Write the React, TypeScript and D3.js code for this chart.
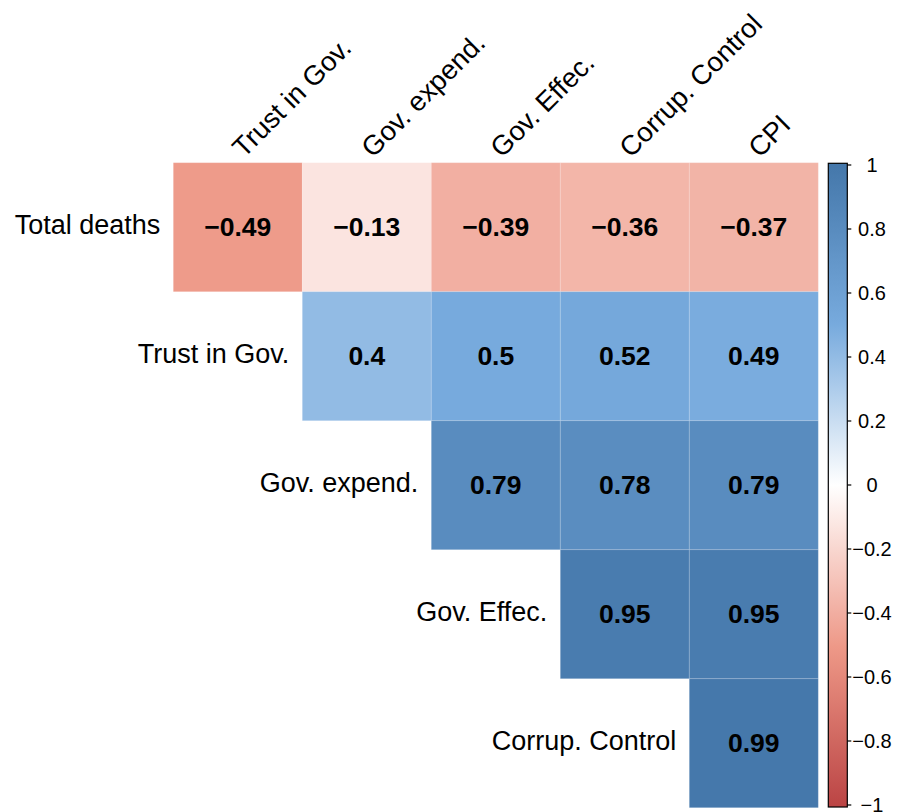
import React from "react";
import * as d3 from "d3";

// Variable names along the rows (left) and columns (top) of the upper triangle
const rowNames = ["Total deaths", "Trust in Gov.", "Gov. expend.", "Gov. Effec.", "Corrup. Control"];
const colNames = ["Trust in Gov.", "Gov. expend.", "Gov. Effec.", "Corrup. Control", "CPI"];

// Correlation coefficients, one array per row, starting at the diagonal
const rowTotalDeaths = [-0.49, -0.13, -0.39, -0.36, -0.37];
const rowTrust = [0.4, 0.5, 0.52, 0.49];
const rowGovExpend = [0.79, 0.78, 0.79];
const rowGovEffec = [0.95, 0.95];
const rowCorrup = [0.99];
const corrRows = [rowTotalDeaths, rowTrust, rowGovExpend, rowGovEffec, rowCorrup];

// Colour legend ticks
const legendTicks = [1, 0.8, 0.6, 0.4, 0.2, 0, -0.2, -0.4, -0.6, -0.8, -1];

// Palette stops
const paletteDomain = [-1, -0.5, 0, 0.5, 1];
const paletteColors = ["#BB4444", "#EE9988", "#FFFFFF", "#77AADD", "#4477AA"];

const FONT = "'Liberation Sans', Arial, Helvetica, sans-serif";

export default function App() {
  const W = 897;
  const H = 812;
  const gridLeft = 173.3;
  const gridTop = 162.7;
  const cell = 129;
  const n = colNames.length;

  const x = d3.scaleBand<number>().domain(d3.range(n)).range([gridLeft, gridLeft + n * cell]);
  const y = d3.scaleBand<number>().domain(d3.range(n)).range([gridTop, gridTop + n * cell]);
  const color = d3.scaleLinear<string>().domain(paletteDomain).range(paletteColors).interpolate(d3.interpolateRgb);

  const cells: { r: number; c: number; v: number }[] = [];
  corrRows.forEach((vals, r) => vals.forEach((v, k) => cells.push({ r, c: r + k, v })));

  // Legend geometry
  const lgX = 828.3;
  const lgW = 19;
  const lgTop = 163.3;
  const lgBottom = 807;
  const ly = d3.scaleLinear().domain([-1, 1]).range([805, 165]);
  const fmt = (t: number) => (t < 0 ? "\u2212" + String(Math.abs(t)) : String(t));
  const gradStops = d3.range(0, 1.0001, 0.05).map((p) => ({ p, col: color(1 - 2 * p) }));

  return (
    <svg
      width={W}
      height={H}
      viewBox={`0 0 ${W} ${H}`}
      style={{ position: "absolute", left: 0, top: 0, display: "block", background: "#fff" }}
      fontFamily={FONT}
    >
      <defs>
        <linearGradient id="legendGrad" x1="0" y1="0" x2="0" y2="1">
          {gradStops.map((s, i) => (
            <stop key={i} offset={s.p} stopColor={s.col} />
          ))}
        </linearGradient>
      </defs>

      {/* correlation cells */}
      {cells.map((d, i) => (
        <g key={i}>
          <rect
            x={x(d.c)!}
            y={y(d.r)!}
            width={x.bandwidth()}
            height={y.bandwidth()}
            fill={color(d.v)}
            stroke="#ffffff"
            strokeOpacity={0.15}
            strokeWidth={1}
          />
          <text
            x={x(d.c)! + x.bandwidth() / 2}
            y={y(d.r)! + y.bandwidth() / 2}
            textAnchor="middle"
            dominantBaseline="central"
            fontSize={26.5}
            fontWeight="bold"
            fill="#000"
          >
            {fmt(d.v)}
          </text>
        </g>
      ))}

      {/* row labels */}
      {rowNames.map((name, r) => (
        <text
          key={name}
          x={x(r)! - 13}
          y={y(r)! + y.bandwidth() / 2 - 2}
          textAnchor="end"
          dominantBaseline="central"
          fontSize={27}
          fill="#000"
        >
          {name}
        </text>
      ))}

      {/* column labels, rotated */}
      {colNames.map((name, c) => {
        const cx = x(c)! + x.bandwidth() / 2 + 6;
        const cy = gridTop - 4;
        return (
          <text key={name} transform={`translate(${cx},${cy}) rotate(-45)`} fontSize={27.5} fill="#000">
            {name}
          </text>
        );
      })}

      {/* colour legend */}
      <rect x={lgX} y={lgTop} width={lgW} height={lgBottom - lgTop} fill="url(#legendGrad)" stroke="#000" strokeWidth={1.2} />
      {legendTicks.map((t) => (
        <g key={t}>
          <line x1={lgX + lgW} x2={lgX + lgW + 4} y1={ly(t)} y2={ly(t)} stroke="#000" strokeWidth={1.2} />
          <text x={872} y={ly(t)} textAnchor="middle" dominantBaseline="central" fontSize={20} fill="#000">
            {fmt(t)}
          </text>
        </g>
      ))}
    </svg>
  );
}
